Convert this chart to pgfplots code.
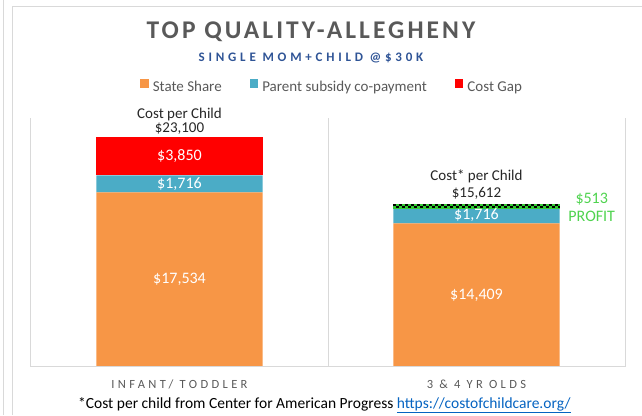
\documentclass[border=0pt]{standalone}
\usepackage{pgfplots}
\pgfplotsset{compat=1.18}
\usepackage{fontspec}
\setmainfont{Carlito}
\newfontfamily\titlefont[LetterSpace=12]{Carlito}
\newfontfamily\subfont[LetterSpace=29]{Carlito}
\newfontfamily\catfont[LetterSpace=27]{Carlito}
\definecolor{sorange}{HTML}{F79646}
\definecolor{sblue}{HTML}{4BACC6}
\definecolor{sred}{HTML}{FF0000}
\definecolor{tgray}{HTML}{595959}
\definecolor{subblue}{HTML}{2F5496}
\definecolor{gridc}{HTML}{D9D9D9}
\definecolor{pgreen}{HTML}{4FD34F}
\definecolor{dgreen}{HTML}{33CC33}
\definecolor{linkc}{HTML}{0563C1}
\pgfplotsset{sq/.style={legend image code/.code={\fill[##1] (0pt,-0.5pt) rectangle (8.5pt,8pt);}}}
\begin{document}
\begin{tikzpicture}[x=1pt,y=1pt]
\useasboundingbox (0,0) rectangle (642,415);
\draw[gridc, line width=1pt] (3,0) -- (3,415);
\draw[gridc, line width=1pt] (12,0) -- (12,408) -- (642,408);
\begin{axis}[
  at={(31pt,48pt)}, anchor=south west,
  scale only axis, width=594pt, height=249pt,
  ybar stacked, bar width=0.56,
  xmin=-0.5, xmax=1.5, ymin=0, ymax=25000,
  axis lines=none,
  clip=false,
  legend columns=3,
  legend style={draw=none, fill=none, font=\fontsize{15}{17}\selectfont, text=tgray,
    at={(axis description cs:0.507,1.1245)}, anchor=center,
    /tikz/every even column/.append style={column sep=26pt},
    /tikz/every odd column/.append style={column sep=0pt}},
]
\draw[gridc, line width=1pt] (axis cs:-0.5,0) -- (axis cs:1.5,0);
\draw[gridc, line width=1pt] (axis cs:-0.5,0) -- (axis cs:-0.5,25000);
\draw[gridc, line width=1pt] (axis cs:0.5,0) -- (axis cs:0.5,25000);
\draw[gridc, line width=1pt] (axis cs:1.5,0) -- (axis cs:1.5,25000);
\addplot[fill=sorange, draw=none, sq] coordinates {(0,17534) (1,14409)};
\addlegendentry{\hspace{2pt}State Share}
\addplot[fill=sblue, draw=none, sq] coordinates {(0,1716) (1,1716)};
\addlegendentry{\hspace{2pt}Parent subsidy co-payment}
\addplot[fill=sred, draw=none, sq] coordinates {(0,3850)};
\addlegendentry{\hspace{2pt}Cost Gap}
\end{axis}
\begin{axis}[
  at={(31pt,48pt)}, anchor=south west,
  scale only axis, width=594pt, height=249pt,
  xmin=-0.5, xmax=1.5, ymin=0, ymax=25000,
  axis lines=none, clip=false,
]
\addplot[draw=dgreen, line width=4.5pt, mark=none] coordinates {(0.72,16125) (1.28,16125)};
\addplot[draw=black, line width=2pt, mark=none, dash pattern=on 3pt off 3pt] coordinates {(0.72,16225) (1.28,16225)};
\addplot[draw=black, line width=2pt, mark=none, dash pattern=on 3pt off 3pt, dash phase=3pt] coordinates {(0.72,16025) (1.28,16025)};
\node[font=\fontsize{16}{18}\selectfont, text=white] at (axis cs:0,8767) {\$17,534};
\node[font=\fontsize{16}{18}\selectfont, text=white] at (axis cs:0,18392) {\$1,716};
\node[font=\fontsize{16}{18}\selectfont, text=white] at (axis cs:0,21175) {\$3,850};
\node[font=\fontsize{16}{18}\selectfont, text=white] at (axis cs:1,7204) {\$14,409};
\node[font=\fontsize{16}{18}\selectfont, text=white] at (axis cs:1,15267) {\$1,716};
\node[font=\fontsize{15}{14}\selectfont, text=black!85, align=center, anchor=south, inner sep=0pt, yshift=2pt] at (axis cs:0,23100) {Cost per Child\\\$23,100};
\node[font=\fontsize{15}{17}\selectfont, text=black!85, align=center, anchor=south, inner sep=0pt, yshift=7pt] at (axis cs:1,16125) {Cost* per Child\\\$15,612};
\node[font=\fontsize{16}{18}\selectfont, text=pgreen, align=center] at (axis cs:1.388,16050) {\$513\\PROFIT};
\node[font=\catfont\fontsize{12.5}{14}\selectfont, text=tgray, anchor=base] at (axis cs:0,0) [yshift=-21pt] {INFANT/ TODDLER};
\node[font=\catfont\fontsize{12.5}{14}\selectfont, text=tgray, anchor=base] at (axis cs:1,0) [yshift=-21pt] {3 \& 4 YR OLDS};
\end{axis}
\node[font=\titlefont\bfseries\fontsize{25.5}{30}\selectfont, text=tgray, anchor=base] at (311,376) {TOP QUALITY-ALLEGHENY};
\node[font=\subfont\bfseries\fontsize{13}{15}\selectfont, text=subblue, anchor=base] at (311,353) {SINGLE MOM+CHILD @\$30K};
\node[font=\fontsize{15.5}{17}\selectfont, text=black, anchor=base west, inner sep=0pt] at (78,7) {*Cost per child from Center for American Progress \textcolor{linkc}{\underline{https://costofchildcare.org/}}};
\end{tikzpicture}
\end{document}
